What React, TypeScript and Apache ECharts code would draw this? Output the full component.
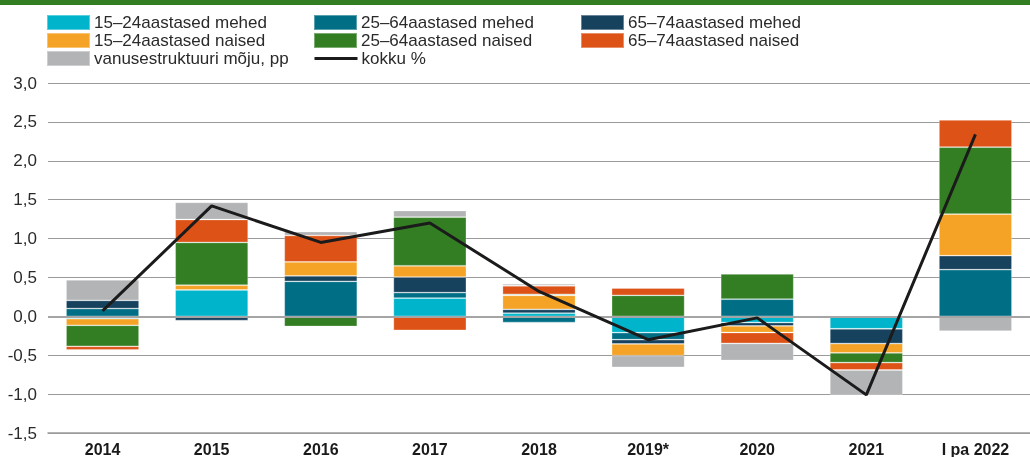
import React, { useEffect, useRef } from "react";
import * as echarts from "echarts";

const categories = ["2014", "2015", "2016", "2017", "2018", "2019*", "2020", "2021", "I pa 2022"];
const men1524 = [-0.03, 0.34, 0.0, 0.235, 0.04, -0.21, -0.08, -0.16, 0];
const men2564 = [0.1, 0.0, 0.45, 0.07, -0.08, -0.09, 0.22, 0, 0.6];
const men6574 = [0.105, -0.055, 0.07, 0.2, 0.05, -0.055, -0.043, -0.19, 0.18];
const women1524 = [-0.085, 0.06, 0.18, 0.145, 0.18, -0.15, -0.085, -0.12, 0.535];
const women2564 = [-0.27, 0.55, -0.13, 0.625, 0.013, 0.27, 0.325, -0.125, 0.86];
const women6574 = [-0.045, 0.295, 0.34, -0.18, 0.11, 0.094, -0.14, -0.095, 0.35];
const ageEffect = [0.265, 0.22, 0.05, 0.085, 0.025, -0.15, -0.22, -0.32, -0.19];
const total = [0.07, 1.42, 0.95, 1.2, 0.32, -0.3, -0.02, -1.01, 2.34];
const yTicks = { min: -1.5, max: 3, interval: 0.5 };

const N1 = "15–24aastased mehed";
const N2 = "25–64aastased mehed";
const N3 = "65–74aastased mehed";
const N4 = "15–24aastased naised";
const N5 = "25–64aastased naised";
const N6 = "65–74aastased naised";
const N7 = "vanusestruktuuri mõju, pp";
const N8 = "kokku %";

const C = {
  cyan: "#00B5CB",
  teal: "#006E85",
  navy: "#17425E",
  orange: "#F5A327",
  green: "#337E23",
  red: "#DD5317",
  gray: "#B3B4B6",
  line: "#1b1b1b",
};

const FONT = "'Liberation Sans', Arial, sans-serif";

export default function App() {
  const ref = useRef<HTMLDivElement>(null);
  useEffect(() => {
    if (!ref.current) return;
    const chart = echarts.init(ref.current, null, { renderer: "svg" });
    const bar = (name: string, data: number[], color: string) => ({
      name,
      type: "bar",
      stack: "a",
      data,
      barWidth: 73,
      itemStyle: { color, borderColor: "rgba(255,255,255,0.35)", borderWidth: 0.8 },
      emphasis: { disabled: true },
    });
    const leg = (name: string, left: number, top: number, isLine = false) => ({
      orient: "horizontal",
      left,
      top,
      padding: 0,
      itemWidth: 43,
      itemHeight: 15,
      selectedMode: false,
      textStyle: { fontSize: 17, color: "#2a2a2a", fontFamily: FONT, padding: [0, 0, 0, -1] },
      data: isLine
        ? [
            {
              name,
              lineStyle: { width: 3, color: C.line },
              itemStyle: { color: "rgba(0,0,0,0)", borderColor: "rgba(0,0,0,0)", borderWidth: 0, opacity: 0 },
            },
          ]
        : [{ name, icon: "rect" }],
    });
    const r0 = 14, r1 = 32, r2 = 50;
    chart.setOption({
      animation: false,
      textStyle: { fontFamily: FONT },
      graphic: [
        { type: "rect", left: 0, top: 0, shape: { width: 1030, height: 5 }, style: { fill: C.green } },
      ],
      legend: [
        leg(N1, 46, r0),
        leg(N4, 46, r1),
        leg(N7, 46, r2),
        leg(N2, 313, r0),
        leg(N5, 313, r1),
        leg(N8, 313, r2, true),
        leg(N3, 580, r0),
        leg(N6, 580, r1),
      ],
      grid: { left: 48, right: -12, top: 83, bottom: 21 },
      xAxis: {
        type: "category",
        data: categories,
        axisLine: { onZero: false, lineStyle: { color: "#9a9a9a", width: 1.5 } },
        axisTick: { inside: true, length: 7, lineStyle: { color: "#9a9a9a", width: 1.2 } },
        axisLabel: { fontSize: 16, fontWeight: "bold", color: "#1a1a1a", margin: 8, fontFamily: FONT },
      },
      yAxis: {
        type: "value",
        ...yTicks,
        axisLine: { show: false },
        axisTick: { show: false },
        splitLine: { lineStyle: { color: "#9a9a9a", width: 1.2 } },
        axisLabel: {
          fontSize: 17,
          color: "#2a2a2a",
          margin: 11,
          fontFamily: FONT,
          formatter: (v: number) => v.toFixed(1).replace(".", ","),
        },
      },
      series: [
        bar(N1, men1524, C.cyan),
        bar(N2, men2564, C.teal),
        bar(N3, men6574, C.navy),
        bar(N4, women1524, C.orange),
        bar(N5, women2564, C.green),
        bar(N6, women6574, C.red),
        bar(N7, ageEffect, C.gray),
        {
          name: N8,
          type: "line",
          data: total,
          symbol: "none",
          z: 5,
          lineStyle: { color: C.line, width: 3 },
          itemStyle: { color: C.line },
          emphasis: { disabled: true },
          markLine: {
            silent: true,
            symbol: "none",
            label: { show: false },
            lineStyle: { color: "#a5a5a5", width: 2, type: "solid" },
            data: [{ yAxis: 0 }],
          },
        },
      ],
    });
    return () => chart.dispose();
  }, []);
  return <div ref={ref} style={{ position: "fixed", left: 0, top: 0, width: 1030, height: 457 }} />;
}
